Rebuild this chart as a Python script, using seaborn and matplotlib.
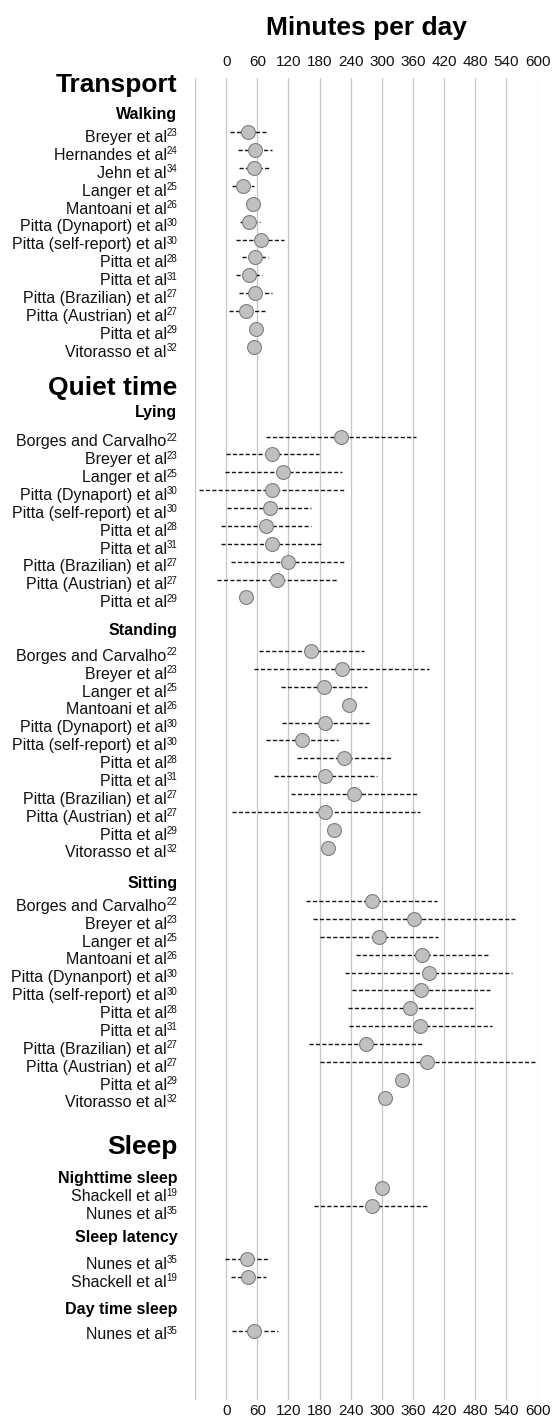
import numpy as np
import pandas as pd
import seaborn as sns
import matplotlib.pyplot as plt
import matplotlib.transforms as mtransforms

sns.set_theme(style="white")
plt.rcParams["font.family"] = ["Liberation Sans", "DejaVu Sans"]
plt.rcParams["text.color"] = "#000000"

# ---- data (minutes per day: mean, low, high) ----
walking_studies = ["Breyer et al", "Hernandes et al", "Jehn et al", "Langer et al", "Mantoani et al",
                   "Pitta (Dynaport) et al", "Pitta (self-report) et al", "Pitta et al", "Pitta et al",
                   "Pitta (Brazilian) et al", "Pitta (Austrian) et al", "Pitta et al", "Vitorasso et al"]
walking_refs = ["23", "24", "34", "25", "26", "30", "30", "28", "31", "27", "27", "29", "32"]
walking_mean = [42, 55, 54, 33, 52, 45, 67, 55, 45, 56, 39, 58, 54]
walking_low = [7, 23, 25, 12, np.nan, 27, 19, 30, 19, 24, 6, np.nan, np.nan]
walking_high = [77, 89, 84, 53, np.nan, 65, 111, 81, 70, 89, 74, np.nan, np.nan]

lying_studies = ["Borges and Carvalho", "Breyer et al", "Langer et al", "Pitta (Dynaport) et al",
                 "Pitta (self-report) et al", "Pitta et al", "Pitta et al", "Pitta (Brazilian) et al",
                 "Pitta (Austrian) et al", "Pitta et al"]
lying_refs = ["22", "23", "25", "30", "30", "28", "31", "27", "27", "29"]
lying_mean = [222, 89, 110, 88, 84, 77, 88, 120, 98, 39]
lying_low = [77, 0, -3, -52, 1, -9, -9, 10, -17, np.nan]
lying_high = [366, 179, 224, 229, 164, 164, 185, 229, 214, np.nan]

standing_studies = ["Borges and Carvalho", "Breyer et al", "Langer et al", "Mantoani et al",
                    "Pitta (Dynaport) et al", "Pitta (self-report) et al", "Pitta et al", "Pitta et al",
                    "Pitta (Brazilian) et al", "Pitta (Austrian) et al", "Pitta et al", "Vitorasso et al"]
standing_refs = ["22", "23", "25", "26", "30", "30", "28", "31", "27", "27", "29", "32"]
standing_mean = [164, 223, 189, 237, 190, 147, 228, 190, 246, 191, 208, 196]
standing_low = [63, 54, 106, np.nan, 107, 76, 136, 93, 125, 12, np.nan, np.nan]
standing_high = [265, 391, 272, np.nan, 275, 215, 320, 290, 368, 374, np.nan, np.nan]

sitting_studies = ["Borges and Carvalho", "Breyer et al", "Langer et al", "Mantoani et al",
                   "Pitta (Dynanport) et al", "Pitta (self-report) et al", "Pitta et al", "Pitta et al",
                   "Pitta (Brazilian) et al", "Pitta (Austrian) et al", "Pitta et al", "Vitorasso et al"]
sitting_refs = ["22", "23", "25", "26", "30", "30", "28", "31", "27", "27", "29", "32"]
sitting_mean = [281, 362, 295, 378, 391, 376, 355, 374, 269, 388, 338, 306]
sitting_low = [154, 168, 180, 251, 230, 242, 235, 236, 160, 180, np.nan, np.nan]
sitting_high = [407, 557, 409, 506, 551, 508, 476, 512, 378, 596, np.nan, np.nan]

night_studies = ["Shackell et al", "Nunes et al"]
night_refs = ["19", "35"]
night_mean = [300, 281]
night_low = [np.nan, 170]
night_high = [np.nan, 391]

latency_studies = ["Nunes et al", "Shackell et al"]
latency_refs = ["35", "19"]
latency_mean = [40, 42]
latency_low = [-3, 10]
latency_high = [84, 76]

day_studies = ["Nunes et al"]
day_refs = ["35"]
day_mean = [54]
day_low = [11]
day_high = [99]

# ---- layout (pixel units from top of figure) ----
# (section, group, studies, refs, mean, low, high, section_gap, sub_gap, first_gap, label_shift)
groups = [
    ("Transport", "Walking", walking_studies, walking_refs, walking_mean, walking_low, walking_high, 0, 30, 17.3, 4),
    ("Quiet time", "Lying", lying_studies, lying_refs, lying_mean, lying_low, lying_high, 41, 24.4, 24.3, 4),
    (None, "Standing", standing_studies, standing_refs, standing_mean, standing_low, standing_high, 0, 32.6, 21, 4),
    (None, "Sitting", sitting_studies, sitting_refs, sitting_mean, sitting_low, sitting_high, 0, 35.7, 17.6, 4),
    ("Sleep", "Nighttime sleep", night_studies, night_refs, night_mean, night_low, night_high, 49, 31.3, 9.7, 8),
    (None, "Sleep latency", latency_studies, latency_refs, latency_mean, latency_low, latency_high, 0, 31.7, 21.6, 4),
    (None, "Day time sleep", day_studies, day_refs, day_mean, day_low, day_high, 0, 32.7, 21, 3),
]
ROW_STEP = 17.88
START_Y = 85

rows = []
headers = []
cursor = START_Y
first = True
for section, group, studies, refs, mean, low, high, sec_gap, sub_gap, first_gap, shift in groups:
    if section is not None:
        if not first:
            cursor += sec_gap
        headers.append((section, cursor, "big"))
    cursor += sub_gap
    first = False
    headers.append((group, cursor, "sub"))
    cursor += first_gap
    for i, (s, r, m, lo, hi) in enumerate(zip(studies, refs, mean, low, high)):
        if i > 0:
            cursor += ROW_STEP
        rows.append({"label": s, "ref": r, "mean": m, "low": lo,
                     "high": hi, "y": cursor, "label_y": cursor + shift})

df = pd.DataFrame(rows)

# ---- figure ----
W, H = 558, 1416
fig = plt.figure(figsize=(W / 100, H / 100), dpi=100)
ax_left, ax_right, ax_top, ax_bottom = 195, 537.5, 78, 1400
ax = fig.add_axes([ax_left / W, 1 - ax_bottom / H, (ax_right - ax_left) / W, (ax_bottom - ax_top) / H])

bars = df.dropna(subset=["low"])
ax.hlines(bars["y"], bars["low"], bars["high"], colors="#111111",
          linestyles=(0, (3, 1.6)), linewidth=1.0, zorder=2)
sns.scatterplot(data=df, x="mean", y="y", ax=ax, s=100, color="#c0c0c0",
                edgecolor="#7f7f7f", linewidth=0.8, zorder=3, legend=False)
ax.set_xlabel("")
ax.set_ylabel("")
ax.set_xlim(-60, 600)
ax.set_ylim(ax_bottom, ax_top)

ticks = list(range(-60, 601, 60))
ax.set_xticks(ticks)
ax.set_xticklabels([""] + [str(t) for t in ticks[1:]])
ax.set_yticks([])
ax.grid(axis="x", color="#c6c6c6", linewidth=0.9)
ax.set_axisbelow(True)
for sp in ax.spines.values():
    sp.set_visible(False)
ax.tick_params(axis="x", top=True, labeltop=True, bottom=True, labelbottom=True,
               length=0, labelsize=11, labelcolor="#111111", pad=3)

# top tick labels sit a bit higher above the plot
offset = mtransforms.ScaledTranslation(0, 3.5 / 72, fig.dpi_scale_trans)
for t in ax.xaxis.get_major_ticks():
    t.label2.set_transform(t.label2.get_transform() + offset)

# study labels with small superscript reference numbers
trans = mtransforms.blended_transform_factory(fig.transFigure, ax.transData)
renderer = fig.canvas.get_renderer()
label_x = 177.5 / W
cap_half = 5.7
for _, r in df.iterrows():
    base = r["label_y"] + cap_half
    sup = ax.text(label_x, base - 5.5, r["ref"], transform=trans, ha="right", va="baseline",
                  fontsize=7, color="#111111", clip_on=False)
    sw = sup.get_window_extent(renderer).width / W
    ax.text(label_x - sw, base, r["label"], transform=trans, ha="right", va="baseline",
            fontsize=11.5, color="#111111", clip_on=False)

for text, y, kind in headers:
    size = 19 if kind == "big" else 11.5
    ax.text(label_x, y, text, transform=trans, ha="right", va="center",
            fontsize=size, fontweight="bold", color="#000000", clip_on=False)

fig.text((ax_left + ax_right) / 2 / W, 1 - 28.5 / H, "Minutes per day", ha="center", va="center",
         fontsize=19, fontweight="bold", color="#000000")

fig.savefig("out.png", dpi=100)
